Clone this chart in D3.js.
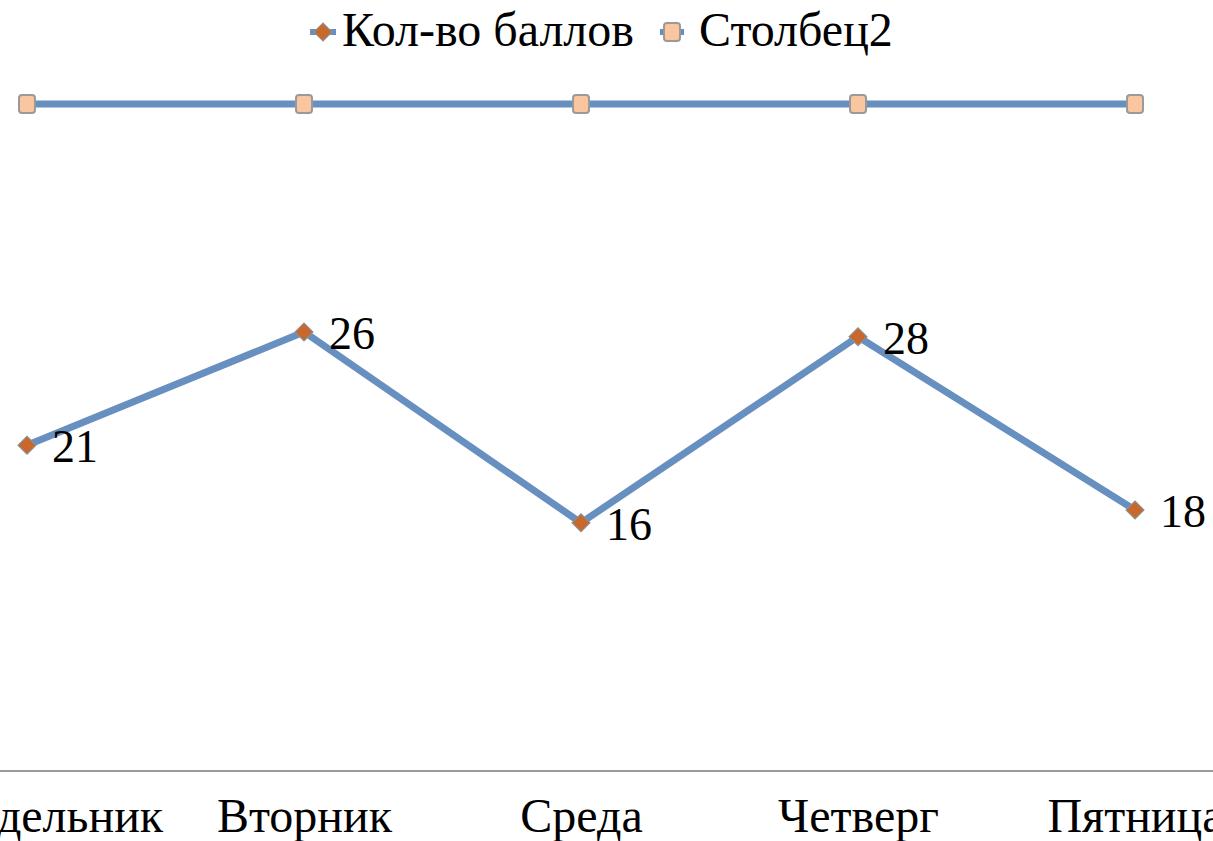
<!DOCTYPE html>
<meta charset="utf-8">
<body style="margin:0">
<script src="https://d3js.org/d3.v7.min.js"></script>
<script>
    // data (100% stacked line chart)
    var days = ["Понедельник", "Вторник", "Среда", "Четверг", "Пятница"];
    var scores = [21, 26, 16, 28, 18];
    var col2 = [22, 13.5, 27, 15, 28];
    var seriesNames = ["Кол-во баллов", "Столбец2"];

    var width = 1213, height = 841;
    var axisY = 771, topY = 104;
    var FONT = "'Liberation Serif'";
    var BLUE = "#6790c0";

    var svg = d3.select("body").append("svg")
        .attr("width", width)
        .attr("height", height);

    var rows = days.map(function (d, i) { return { day: d, score: scores[i], col2: col2[i] }; });
    var stacked = d3.stack().keys(["score", "col2"]).offset(d3.stackOffsetExpand)(rows);

    // set the ranges
    var x = d3.scalePoint().domain(days).range([27, 1135]);
    var y = d3.scaleLinear().domain([0, 1]).range([axisY, topY]);

    var line = d3.line()
        .x(function (d) { return x(d.data.day); })
        .y(function (d) { return y(d[1]); });

    // x axis
    var xAxis = svg.append("g")
        .attr("transform", "translate(0," + axisY + ")")
        .call(d3.axisBottom(x).tickSize(0).tickPadding(27));
    xAxis.select(".domain").attr("d", "M0,0H" + width).attr("stroke", "#9a9a9a").attr("stroke-width", 2);
    xAxis.selectAll("text").attr("fill", "#000").style("font-family", FONT).style("font-size", "48px");

    // lines
    stacked.forEach(function (s) {
        svg.append("path").datum(s).attr("d", line)
            .attr("fill", "none").attr("stroke", BLUE).attr("stroke-width", 7).attr("stroke-linejoin", "round");
    });

    var diamond = d3.symbol().type(d3.symbolSquare).size(160);

    // series 1 markers + labels
    svg.selectAll(".dia").data(stacked[0]).enter().append("path")
        .attr("d", diamond)
        .attr("transform", function (d) { return "translate(" + x(d.data.day) + "," + y(d[1]) + ") rotate(45)"; })
        .attr("fill", "#c8682c").attr("stroke", "#8f8f8f").attr("stroke-width", 1.2);

    svg.selectAll(".lbl").data(stacked[0]).enter().append("text")
        .attr("x", function (d) { return x(d.data.day) + 25; })
        .attr("y", function (d) { return y(d[1]) + 17; })
        .style("font-family", FONT).style("font-size", "46px")
        .text(function (d) { return d.data.score; });

    // series 2 markers
    svg.selectAll(".sq").data(stacked[1]).enter().append("rect")
        .attr("x", function (d) { return x(d.data.day) - 8; })
        .attr("y", function (d) { return y(d[1]) - 9; })
        .attr("width", 16).attr("height", 18).attr("rx", 3)
        .attr("fill", "#f9c6a0").attr("stroke", "#9a9a9a").attr("stroke-width", 2);

    // legend
    var legend = svg.append("g").attr("transform", "translate(0,32)");
    legend.append("line").attr("x1", 310).attr("x2", 336).attr("stroke", BLUE).attr("stroke-width", 6);
    legend.append("path").attr("d", diamond).attr("transform", "translate(323,0) rotate(45)")
        .attr("fill", "#c8682c").attr("stroke", "#8f8f8f").attr("stroke-width", 1.2);
    legend.append("text").attr("x", 342).attr("y", 14)
        .style("font-family", FONT).style("font-size", "48px").text(seriesNames[0]);

    legend.append("line").attr("x1", 660).attr("x2", 684).attr("stroke", BLUE).attr("stroke-width", 6);
    legend.append("rect").attr("x", 664).attr("y", -9).attr("width", 16).attr("height", 18).attr("rx", 3)
        .attr("fill", "#f9c6a0").attr("stroke", "#9a9a9a").attr("stroke-width", 2);
    legend.append("text").attr("x", 699).attr("y", 14)
        .style("font-family", FONT).style("font-size", "48px").text(seriesNames[1]);
</script>
</body>
